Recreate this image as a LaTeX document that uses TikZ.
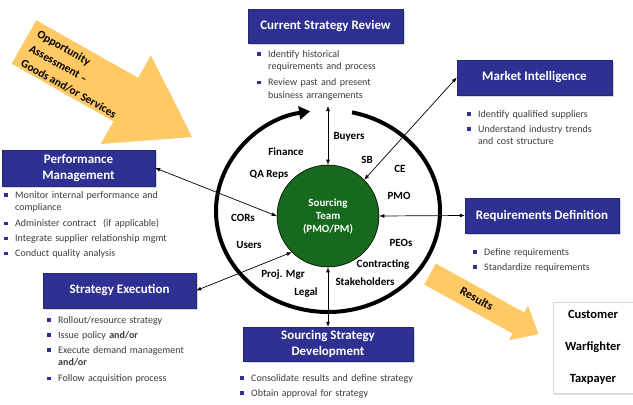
\documentclass[tikz,border=0pt]{standalone}
\usepackage{fontspec}
\setmainfont{Carlito}
\usepackage{xcolor}
\usetikzlibrary{arrows.meta,positioning,shadows}
\definecolor{navy}  {HTML}{2E3192}
\definecolor{leaf}  {HTML}{17691D}
\definecolor{amber} {HTML}{FFC966}
\definecolor{note}  {HTML}{3C3C3C}
\newcommand{\bitem}[1]{\par\noindent
  \makebox[11pt][l]{\textcolor{navy}{\rule[0.3ex]{3.6pt}{3.6pt}}}%
  \begin{tabular}[t]{@{}l@{}}#1\end{tabular}}

\begin{document}
\begin{tikzpicture}[x=1pt,y=-1pt,
    stage/.style={draw=navy!80!black,fill=navy,text=white,align=center,
      font=\fontsize{13}{16}\selectfont\bfseries,inner sep=2pt,
      drop shadow={shadow xshift=1.5pt,shadow yshift=-1.5pt,opacity=.3}},
    notes/.style={anchor=north west,align=left,text width=200pt,inner sep=0pt,
      text=note,font=\fontsize{10}{12.5}\selectfont,
      execute at begin node={\setlength{\parskip}{2.5pt}}},
    member/.style={font=\fontsize{11}{13}\selectfont\bfseries},
    link/.style={{Latex[length=5pt,width=4pt]}-{Latex[length=5pt,width=4pt]},line width=0.7pt},
    banner/.style={font=\fontsize{12}{16}\selectfont\bfseries,inner sep=0pt,transform shape}]
  \path[use as bounding box,fill=white] (0,0) rectangle (633,405);

  % orange arrows
  \begin{scope}[shift={(24,42)},rotate=-29.5]
    \fill[amber] (0,-25) -- (117,-25) -- (117,-51) -- (193,0) -- (117,51)
      -- (117,25) -- (0,25) -- cycle;
    \node[banner,anchor=west,align=left,font=\fontsize{11.5}{16.5}\selectfont\bfseries]
      (oppo) at (8,2) {Opportunity\\Assessment --\\Goods and/or Services};
  \end{scope}
  \begin{scope}[shift={(430,274)},rotate=-29]
    \fill[amber] (0,-12) -- (101,-12) -- (101,-20) -- (124,0) -- (101,20)
      -- (101,12) -- (0,12) -- cycle;
    \node[banner] (results) at (53,-1) {Results};
  \end{scope}

  % ring
  \draw[line width=4pt,-{Triangle[length=11pt,width=13pt]}]
    (328,211) ++(-77.6:112 and 101)
    arc[start angle=-77.6,end angle=260.8,x radius=112,y radius=101];

  \node[circle,fill=leaf,draw=black,line width=0.6pt,minimum size=102pt,
        text=white,align=center,font=\fontsize{11}{13}\selectfont\bfseries]
    (team) at (328,216) {Sourcing\\Team\\(PMO/PM)};

  % stakeholders in the ring
  \node[member] (buyers)  at (349,137) {Buyers};
  \node[member] (finance) at (286,152) {Finance};
  \node[member] (qa)      at (269,175) {QA Reps};
  \node[member] (sb)      at (367,160) {SB};
  \node[member] (ce)      at (400,169) {CE};
  \node[member] (pmo)     at (399,196) {PMO};
  \node[member] (cors)    at (243,218) {CORs};
  \node[member] (users)   at (249,245) {Users};
  \node[member] (peos)    at (401,243) {PEOs};
  \node[member] (contr)   at (383,265) {Contracting};
  \node[member] (projmgr) at (283,275) {Proj. Mgr};
  \node[member] (stake)   at (365,282) {Stakeholders};
  \node[member] (legal)   at (306,293) {Legal};

  % stages
  \node[stage,minimum width=155pt,minimum height=34pt] (csr) at (325.5,26) {Current Strategy Review};
  \node[stage,minimum width=155pt,minimum height=35pt] (mi) at (534.5,77.5) {Market Intelligence};
  \node[stage,minimum width=153pt,minimum height=36pt] (pm) at (78.5,168) {Performance\\Management};
  \node[stage,minimum width=154pt,minimum height=35pt] (rd) at (542,215.5) {Requirements Definition};
  \node[stage,minimum width=153pt,minimum height=35pt] (se) at (119.5,290.5) {Strategy Execution};
  \node[stage,minimum width=170pt,minimum height=34pt] (ssd) at (328,344) {Sourcing Strategy\\Development};

  \node[notes] (csrnotes) at (257,42) {%
    \bitem{Identify historical\\requirements and process}
    \bitem{Review past and present\\business arrangements}};
  \node[notes] (minotes) at (467,102) {%
    \bitem{Identify qualified suppliers}
    \bitem{Understand industry trends\\and cost structure}};
  \node[notes] (pmnotes) at (4,183) {%
    \bitem{Monitor internal performance and\\compliance}
    \bitem{Administer contract\ \ (if applicable)}
    \bitem{Integrate supplier relationship mgmt}
    \bitem{Conduct quality analysis}};
  \node[notes] (rdnotes) at (473,240) {%
    \bitem{Define requirements}
    \bitem{Standardize requirements}};
  \node[notes] (senotes) at (47,308) {%
    \bitem{Rollout/resource strategy}
    \bitem{Issue policy \textbf{and/or}}
    \bitem{Execute demand management\\\textbf{and/or}}
    \bitem{Follow acquisition process}};
  \node[notes] (ssdnotes) at (240,366) {%
    \bitem{Consolidate results and define strategy}
    \bitem{Obtain approval for strategy}};

  \node[draw=black!15,fill=white,minimum width=80pt,minimum height=91pt,align=center,
        font=\fontsize{12.5}{32}\selectfont\bfseries,
        drop shadow={shadow xshift=1pt,shadow yshift=-2pt,opacity=.25}]
    (parties) at (593,347.5) {Customer\\Warfighter\\Taxpayer};

  % connectors
  \coordinate (csrtip) at (328,106);
  \draw[link] (csrtip) -- (team);
  \draw[link] (team.north east) -- (mi.west);
  \draw[link] (team.west) -- (pm.east);
  \draw[link] (team.east) -- (rd.west);
  \draw[link] (team.south west) -- (se.east);
  \draw[link] (team) -- (ssd);
\end{tikzpicture}
\end{document}
